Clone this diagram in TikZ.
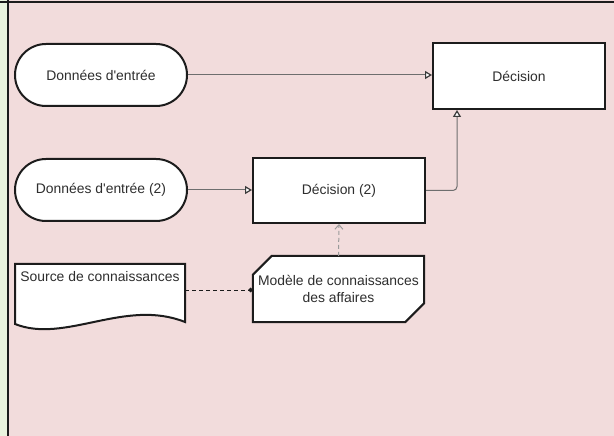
\documentclass[tikz,border=0pt]{standalone}
\usepackage{fontspec}
\newfontfamily\labelfont{Liberation Sans}
\usetikzlibrary{arrows.meta}
\definecolor{pagebg}{HTML}{F2DCDC}
\definecolor{stripbg}{HTML}{EAF4DE}
\definecolor{edge}{HTML}{1C1C1C}
\definecolor{wire}{HTML}{6E6E6E}
\definecolor{tipedge}{HTML}{3A3A3A}
\definecolor{dashwire}{HTML}{9A9A9A}
\tikzset{
  labeltext/.style={font=\labelfont\fontsize{13.9bp}{17bp}\selectfont, text=black!82},
  shapebox/.style={draw=edge, line width=2bp, fill=white, inner sep=0pt, labeltext},
  stadium/.style={shapebox, minimum width=172bp, minimum height=62bp, rounded corners=31bp},
  decbox/.style={shapebox, rectangle, minimum width=172bp, minimum height=66bp},
  ghost/.style={inner sep=0pt, minimum width=#1, labeltext, align=center},
  flow/.style={draw=wire, line width=1bp, -{Triangle[fill=white, color=tipedge, length=7bp, width=8bp, line width=1.2bp]}},
  infl/.style={draw=dashwire, line width=1bp, dash pattern=on 4bp off 3bp, -{Straight Barb[length=4.5bp, width=8bp, line width=1bp]}},
  assoc/.style={draw=edge, line width=1bp, dash pattern=on 4bp off 3bp, -{Circle[length=4.5bp]}}
}
\begin{document}
\begin{tikzpicture}[x=1bp, y=-1bp]
  % page and margin strip
  \fill[pagebg] (0,0) rectangle (614,436);
  \useasboundingbox (0,0) rectangle (614,436);
  \fill[stripbg] (0,0) rectangle (7,436);
  \draw[edge, line width=2.2bp] (7.6,0) -- (7.6,436);
  \draw[edge, line width=1.2bp] (0,2) -- (614,2);

  % inputs and decisions
  \node[stadium] (in1) at (101,75) {Données d'entrée};
  \node[stadium] (in2) at (101,190) {Données d'entrée (2)};
  \node[decbox] (dec) at (519,76) {Décision};
  \node[decbox, minimum height=65bp] (dec2) at (339,190.5) {Décision (2)};

  % knowledge source (document shape)
  \coordinate (srcnw) at (15,264);
  \coordinate (srcne) at (185,264);
  \coordinate (srcse) at (185,322);
  \coordinate (srcsw) at (15,324);
  \draw[edge, line width=2bp, fill=white] (srcsw) -- (srcnw) -- (srcne) -- (srcse)
    .. controls (125,298) and (65,344) .. (srcsw) -- cycle;
  \node[ghost=170bp] (src) at (100,276.5) {Source de connaissances};
  \coordinate (srcport) at (185,290);

  % business knowledge model (chamfered box)
  \node[ghost=171bp, minimum height=66bp] (mod) at (338.5,289) {};
  \draw[edge, line width=2bp, fill=white]
    ([yshift=-19bp]mod.north west) -- ([xshift=19bp]mod.north west) -- (mod.north east)
    -- ([yshift=19bp]mod.south east) -- ([xshift=-19bp]mod.south east) -- (mod.south west) -- cycle;
  \node[ghost=171bp] at (mod.center) {Modèle de connaissances\\[-0.5bp]des affaires};

  % connectors
  \draw[flow] (in1.east) -- (dec.west |- in1.east);
  \draw[flow] (in2.east) -- (dec2.west |- in2.east);
  \draw[flow, rounded corners=4bp] (dec2.east) -- (457,190.5) -- (457,0 |- dec.south);
  \draw[infl] (mod.north) -- (dec2.south);
  \draw[assoc] (srcport) -- (mod.west |- srcport);
\end{tikzpicture}
\end{document}
